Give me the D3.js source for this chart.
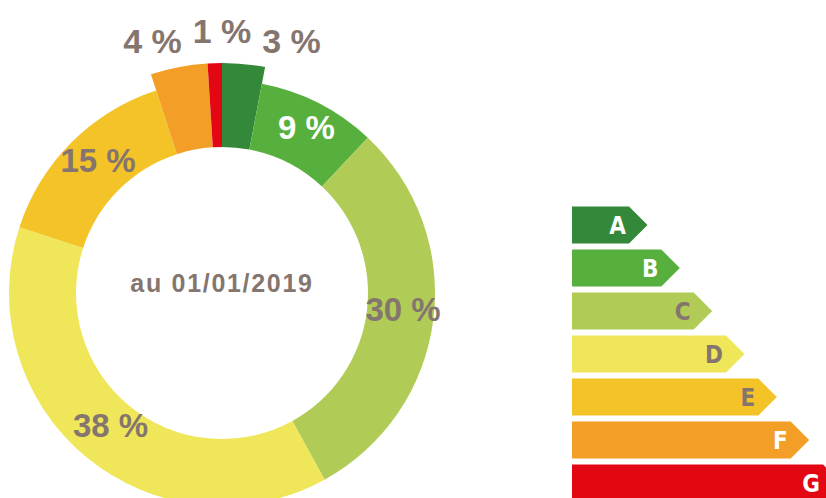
<!DOCTYPE html>
<html>
<head>
<meta charset="utf-8">
<script src="https://cdn.jsdelivr.net/npm/d3@7"></script>
<style>
  html, body { margin: 0; padding: 0; background: #ffffff; }
  svg { display: block; }
  text { font-family: "Liberation Sans", Arial, "Helvetica Neue", sans-serif; font-weight: bold; }
  text.cls { font-family: "Liberation Sans Narrow", "Arial Narrow", "DejaVu Sans Condensed", "Liberation Sans", sans-serif; }
</style>
</head>
<body>
<svg id="chart" width="826" height="498"></svg>
<script>
// ---- data ----
const classes = ["A", "B", "C", "D", "E", "F", "G"];
const shares = [3, 9, 30, 38, 15, 4, 1];
const classColors = ["#33883a", "#57b03e", "#b1cc56", "#f0e659", "#f4c327", "#f39e26", "#e30613"];
const labelColors = ["#ffffff", "#ffffff", "#85756f", "#85756f", "#85756f", "#ffffff", "#ffffff"];
const centerTitle = "au 01/01/2019";

const textGrey = "#85756f";
const svg = d3.select("#chart");

// ---- donut ----
const cx = 222, cy = 293;
const rInner = 146, rOuter = 213, rOuterSmall = 230, rLabelOut = 260;
const smallLimit = 5;

const pie = d3.pie().sort(null).value(d => d.v);
const data = classes.map((c, i) => ({ c, v: shares[i], color: classColors[i] }));
const arcs = pie(data);

const arcNormal = d3.arc().innerRadius(rInner).outerRadius(rOuter);
const arcSmall = d3.arc().innerRadius(rInner).outerRadius(rOuterSmall);
const arcLabel = d3.arc().innerRadius(rInner).outerRadius(rOuter);

const g = svg.append("g").attr("transform", `translate(${cx},${cy})`);

g.selectAll("path.slice")
  .data(arcs)
  .join("path")
  .attr("class", "slice")
  .attr("d", d => (d.data.v < smallLimit ? arcSmall(d) : arcNormal(d)))
  .attr("fill", d => d.data.color);

// inside labels (at slice centroid, lifted slightly)
const inside = arcs.filter(d => d.data.v >= smallLimit);
g.selectAll("text.in")
  .data(inside)
  .join("text")
  .attr("class", "in")
  .attr("x", d => arcLabel.centroid(d)[0] + 3)
  .attr("y", d => arcLabel.centroid(d)[1] - 6)
  .attr("text-anchor", "middle")
  .attr("dy", "0.36em")
  .attr("font-size", 33)
  .attr("fill", d => d.data.v < 10 ? "#ffffff" : textGrey)
  .text(d => d.data.v + " %");

// outside labels: small slices, spread evenly around the pie start angle
const outside = arcs.filter(d => d.data.v < smallLimit)
  .map(d => ({ d, mid: ((d.startAngle + d.endAngle) / 2 + Math.PI) % (2 * Math.PI) - Math.PI }))
  .sort((a, b) => a.mid - b.mid);
const spread = 15.5 * Math.PI / 180;
outside.forEach((o, i) => { o.ang = (i - (outside.length - 1) / 2) * spread; });

g.selectAll("text.out")
  .data(outside)
  .join("text")
  .attr("class", "out")
  .attr("x", o => rLabelOut * Math.sin(o.ang))
  .attr("y", o => -rLabelOut * Math.cos(o.ang) - 2)
  .attr("text-anchor", "middle")
  .attr("dy", "0.36em")
  .attr("font-size", 34)
  .attr("fill", textGrey)
  .text(o => o.d.data.v + " %");

// center title
g.append("text")
  .attr("x", 0).attr("y", -10)
  .attr("dy", "0.36em")
  .attr("text-anchor", "middle")
  .attr("font-size", 25)
  .attr("letter-spacing", 1.7)
  .attr("fill", textGrey)
  .text(centerTitle);

// ---- energy label scale ----
const pad = 0.14, step = 43, top0 = 206.5;
const y = d3.scaleBand().domain(classes)
  .range([top0, top0 + step * (classes.length - pad)])
  .paddingInner(pad).paddingOuter(0);
const w = d3.scaleLinear().domain([0, classes.length - 1]).range([57, 251]);
const x0 = 572;

const bars = svg.append("g");
bars.selectAll("path.bar")
  .data(classes)
  .join("path")
  .attr("class", "bar")
  .attr("d", (c, i) => {
    const top = y(c), h = y.bandwidth(), right = x0 + w(i);
    return `M${x0},${top}H${right}L${right + h / 2},${top + h / 2}L${right},${top + h}H${x0}Z`;
  })
  .attr("fill", (c, i) => classColors[i]);

bars.selectAll("text.cls")
  .data(classes)
  .join("text")
  .attr("class", "cls")
  .attr("x", (c, i) => x0 + w(i) - 3)
  .attr("y", c => y(c) + y.bandwidth() / 2)
  .attr("dy", "0.36em")
  .attr("text-anchor", "end")
  .attr("font-size", 24)
  .attr("fill", (c, i) => labelColors[i])
  .text(c => c);
</script>
</body>
</html>
